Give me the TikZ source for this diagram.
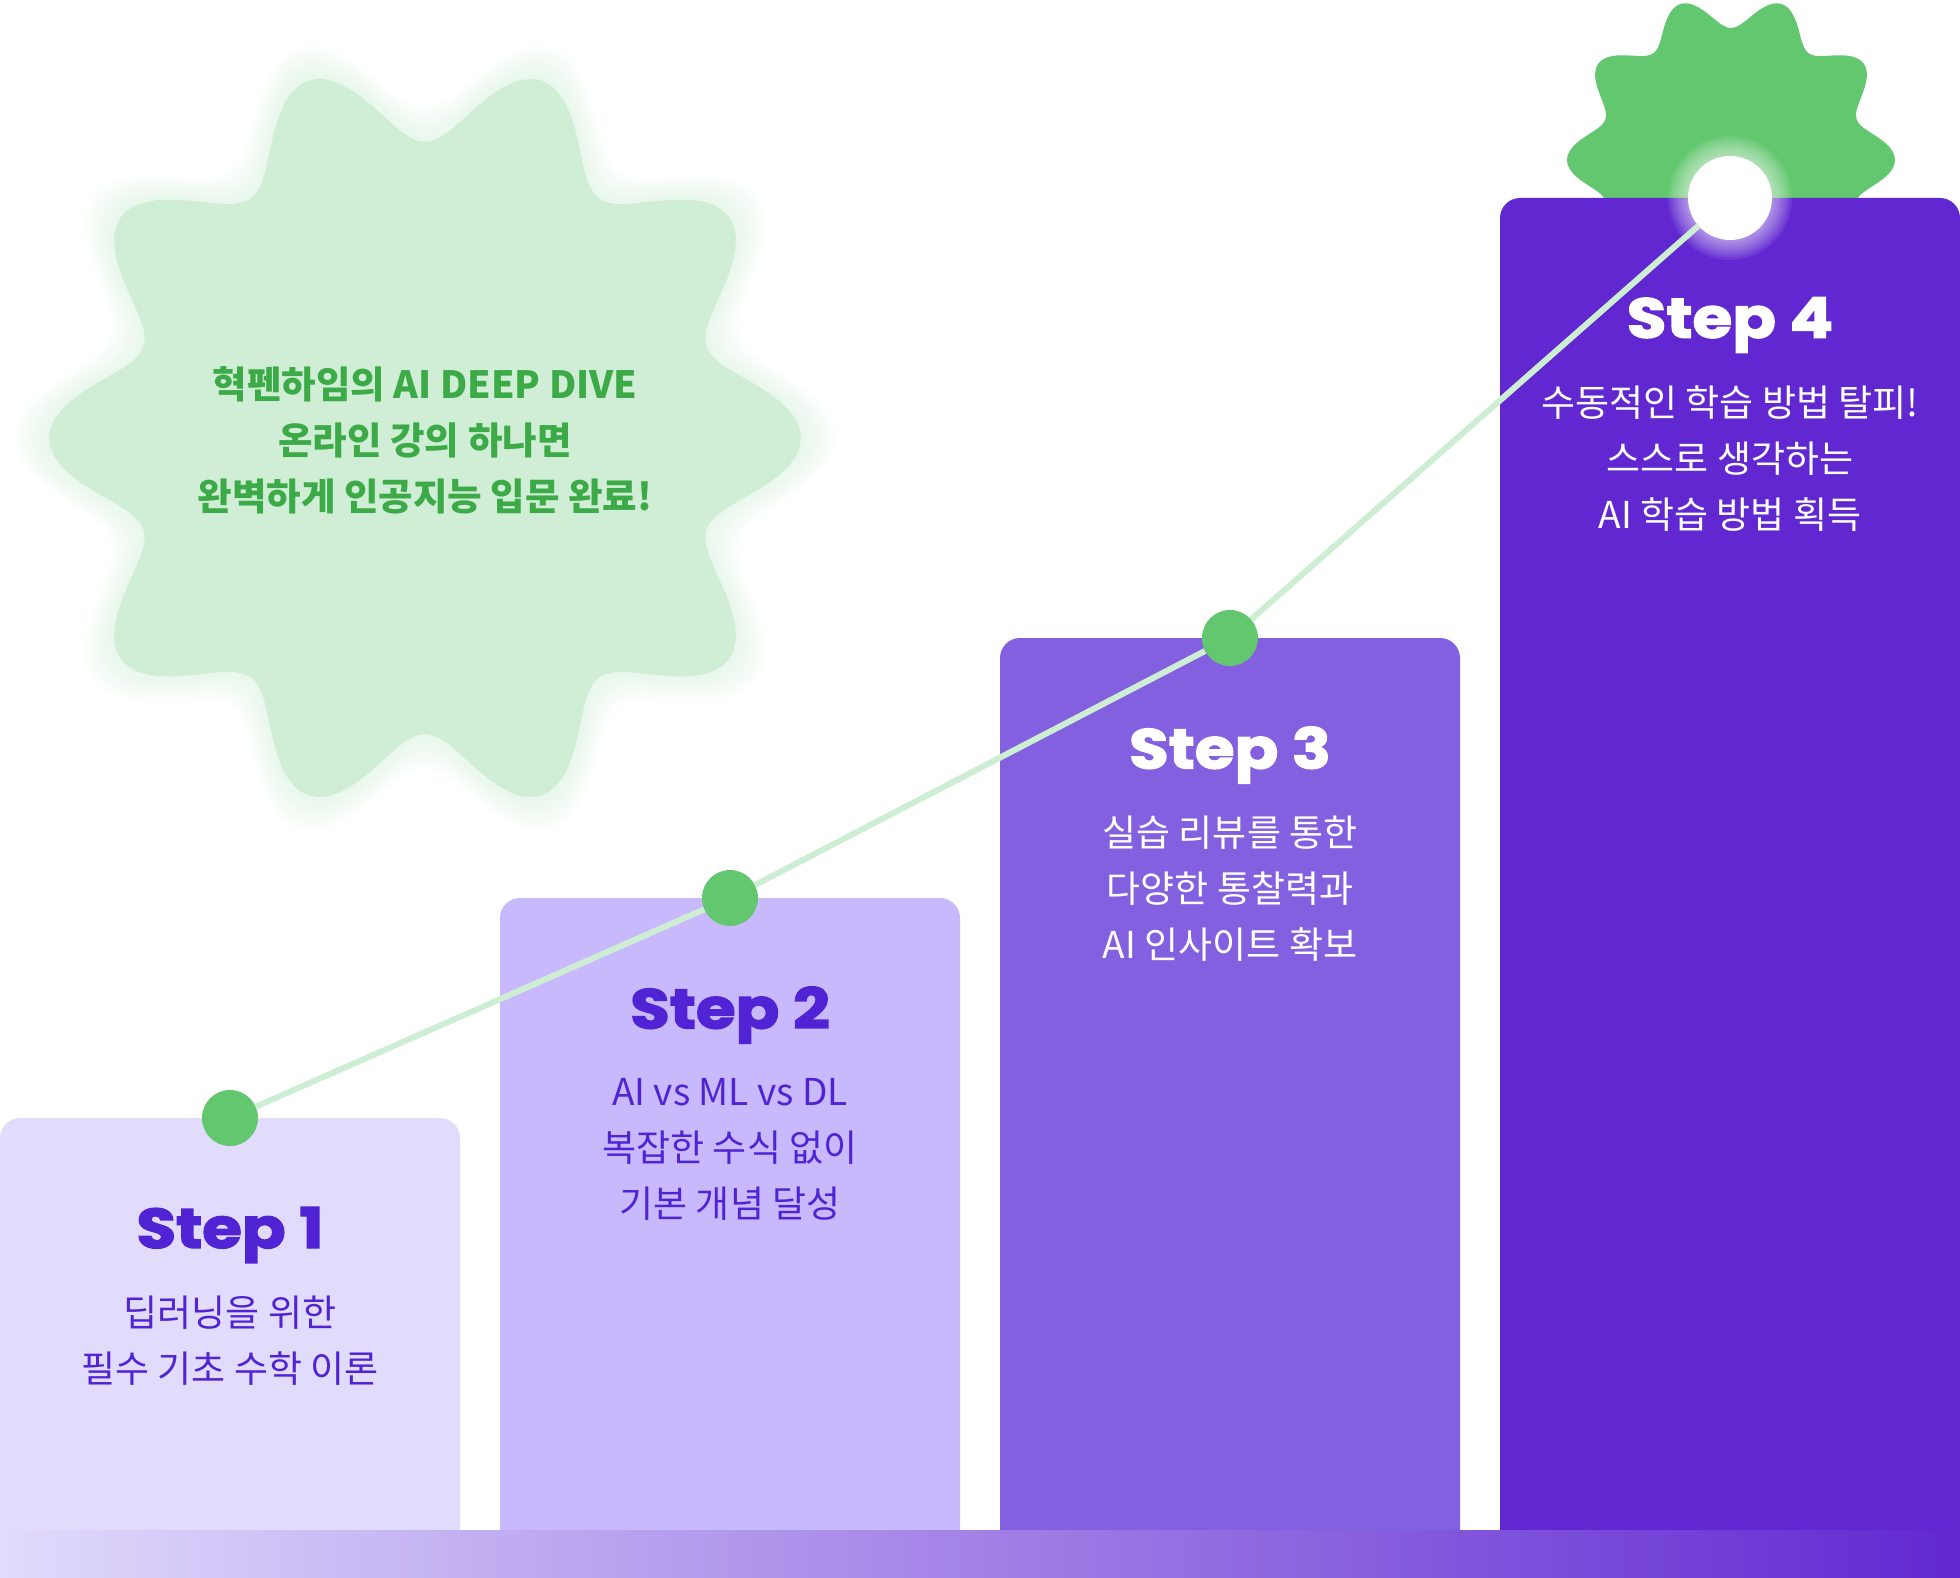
\documentclass[tikz,border=0pt]{standalone}
\usepackage{fontspec}
\setmainfont{Noto Sans CJK KR}
\newfontfamily\stepfont{Poppins}[BoldFeatures={FakeBold=2.5, FakeStretch=1.15}]

\definecolor{boxA}{HTML}{E1DBFC}
\definecolor{boxB}{HTML}{C7B9FC}
\definecolor{boxC}{HTML}{8360E0}
\definecolor{boxD}{HTML}{6128D1}
\definecolor{dotgreen}{HTML}{62C76F}
\definecolor{palegreen}{HTML}{D0EED6}
\definecolor{trailgreen}{HTML}{CDEED3}
\definecolor{msggreen}{HTML}{3DAA48}
\definecolor{inkpurple}{HTML}{5024D4}

\begin{document}
\begin{tikzpicture}[x=1pt,y=-1pt,
        stepbox/.style={rectangle, rounded corners=20pt, anchor=north west,
            minimum width=460pt, inner sep=0pt, outer sep=0pt},
        stepdot/.style={circle, fill=dotgreen, minimum size=56pt, inner sep=0pt},
        stephead/.style={font=\stepfont\bfseries\fontsize{56}{60}\selectfont},
        steptext/.style={align=center, font=\fontsize{37}{56}\selectfont},
        msgtext/.style={align=center, text=msggreen, font=\bfseries\fontsize{37.5}{56}\selectfont},
        trail/.style={draw=trailgreen, line width=6pt}]

                % Canvas
                \useasboundingbox (0,0) rectangle (1960,1578);

                % Big pale badge with soft glow
                \foreach \g in {1,...,10} {
                    \fill[palegreen, opacity=0.06, shift={(425,438)}]
                        plot[domain=0:360, samples=241] (\x:{336+40*cos(10*\x)+3.5*\g}) -- cycle;
                }
                \fill[palegreen, shift={(425,438)}]
                    plot[domain=0:360, samples=241] (\x:{336+40*cos(10*\x)}) -- cycle;

                % Small green badge behind step 4
                \fill[dotgreen, shift={(1731,160)}]
                    plot[domain=0:360, samples=241] (\x:{148+16*cos(10*\x)}) -- cycle;

                % Steps
                \node[stepbox, fill=boxA, minimum height=460pt]  (box1) at (0,1118) {};
                \node[stepbox, fill=boxB, minimum height=680pt]  (box2) at (500,898) {};
                \node[stepbox, fill=boxC, minimum height=940pt]  (box3) at (1000,638) {};
                \node[stepbox, fill=boxD, minimum height=1380pt] (box4) at (1500,198) {};

                % Glow round the top point
                \foreach \g [evaluate=\g as \rr using 42+2.5*\g] in {1,...,8} {
                    \fill[white, opacity=0.08] (box4.north) circle[radius=\rr pt];
                }

                % Points on the trail
                \node[stepdot] (d1) at (box1.north) {};
                \node[stepdot] (d2) at (box2.north) {};
                \node[stepdot] (d3) at (box3.north) {};
                \node[circle, fill=white, minimum size=84pt, inner sep=0pt] (d4) at (box4.north) {};

                % Trail
                \draw[trail] (d1) -- (d2) -- (d3) -- (d4);

                % Ground bar
                \shade[left color=boxA, right color=boxD] (0,1530) rectangle (1960,1578);

                % Step labels
                \node[stephead, text=inkpurple] (h1) at (230,1235) {Step 1};
                \node[stephead, text=inkpurple] (h2) at (730,1015) {Step 2};
                \node[stephead, text=white]     (h3) at (1230,755) {Step 3};
                \node[stephead, text=white]     (h4) at (1730,325) {Step 4};

                % Step texts
                \node[steptext, text=inkpurple] (t1) at (230,1341) {딥러닝을 위한\\필수 기초 수학 이론};
                \node[steptext, text=inkpurple] (t2) at (730,1149) {AI vs ML vs DL\\복잡한 수식 없이\\기본 개념 달성};
                \node[steptext, text=white]     (t3) at (1230,889) {실습 리뷰를 통한\\다양한 통찰력과\\AI 인사이트 확보};
                \node[steptext, text=white]     (t4) at (1730,459) {수동적인 학습 방법 탈피!\\스스로 생각하는\\AI 학습 방법 획득};

                % Badge text
                \node[msgtext] (msg) at (425,440) {혁펜하임의 AI DEEP DIVE\\온라인 강의 하나면\\완벽하게 인공지능 입문 완료!};
\end{tikzpicture}
\end{document}
